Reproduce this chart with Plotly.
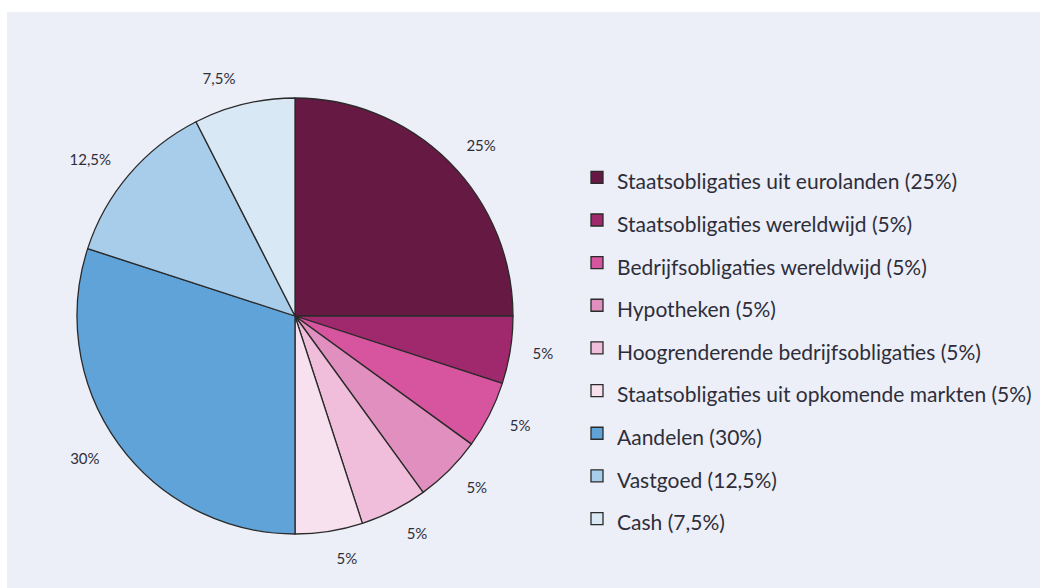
import plotly.graph_objects as go

names = [
    "Staatsobligaties uit eurolanden",
    "Staatsobligaties wereldwijd",
    "Bedrijfsobligaties wereldwijd",
    "Hypotheken",
    "Hoogrenderende bedrijfsobligaties",
    "Staatsobligaties uit opkomende markten",
    "Aandelen",
    "Vastgoed",
    "Cash",
]
values = [25, 5, 5, 5, 5, 5, 30, 12.5, 7.5]
colors = ["#661942", "#a0286c", "#d6559e", "#e08fbf", "#f0bedb",
          "#f8e1ee", "#5fa3d8", "#a8cdea", "#d9e8f5"]

W, H = 1040, 588
FONT = "Lato, 'Noto Sans', sans-serif"
TXT = "#2e2e3a"


def pct(v):
    return (f"{v:g}%").replace(".", ",")


slice_text = [pct(v) for v in values]
legend_labels = [f"<span style='font-size:21px'>{n} ({pct(v)})</span>" for n, v in zip(names, values)]

cx, cy, r = 295, 316, 218
r_lab = r + 18


def dom(rad):
    return dict(x=[(cx - rad) / W, (cx + rad) / W], y=[1 - (cy + rad) / H, 1 - (cy - rad) / H])


fig = go.Figure()
# visible pie
fig.add_trace(go.Pie(
    labels=legend_labels,
    values=values,
    textinfo="none",
    marker=dict(colors=colors, line=dict(color="#2a2a2a", width=1.3)),
    sort=False,
    direction="clockwise",
    rotation=0,
    hoverinfo="skip",
    domain=dom(r),
))
# transparent, slightly larger pie carrying the outside percentage labels
fig.add_trace(go.Pie(
    labels=legend_labels,
    values=values,
    text=slice_text,
    textinfo="text",
    textposition="outside",
    textfont=dict(family=FONT, size=15, color=TXT),
    marker=dict(colors=["rgba(0,0,0,0)"] * len(values), line=dict(width=0)),
    sort=False,
    direction="clockwise",
    rotation=0,
    hoverinfo="skip",
    showlegend=False,
    domain=dom(r_lab),
))

fig.update_layout(
    width=W, height=H,
    margin=dict(l=0, r=0, t=0, b=0),
    paper_bgcolor="white",
    plot_bgcolor="white",
    shapes=[dict(type="rect", xref="paper", yref="paper", x0=7 / W, x1=1, y0=0, y1=1 - 12 / H,
                 fillcolor="#eceff7", line=dict(width=0), layer="below")],
    showlegend=True,
    legend=dict(
        x=577 / W, xanchor="left", y=1 - 151 / H, yanchor="top",
        font=dict(family=FONT, size=30.5, color=TXT),
        bgcolor="rgba(0,0,0,0)",
        traceorder="normal",
    ),
)

fig.write_html("out.html", config={"displayModeBar": False},
               post_script="document.body.style.margin='0';")
